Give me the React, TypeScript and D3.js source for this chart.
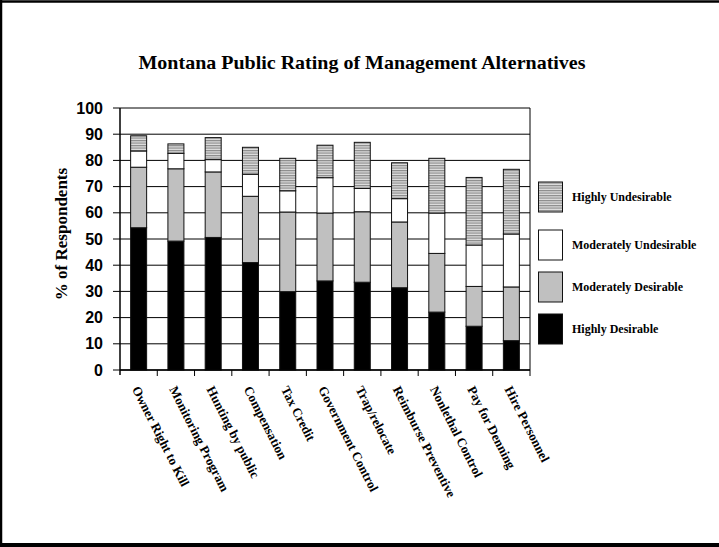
import React from "react";
import * as d3 from "d3";

const categories = [
  "Owner Right to Kill",
  "Monitoring Program",
  "Hunting by public",
  "Compensation",
  "Tax Credit",
  "Government Control",
  "Trap/relocate",
  "Reimburse Preventive",
  "Nonlethal Control",
  "Pay for Denning",
  "Hire Personnel",
];

const highlyDesirable = [54.3, 49.2, 50.6, 41.0, 29.9, 34.0, 33.5, 31.4, 22.1, 16.7, 11.2];
const moderatelyDesirable = [23.1, 27.6, 25.0, 25.3, 30.4, 25.9, 26.9, 25.1, 22.4, 15.2, 20.5];
const moderatelyUndesirable = [6.2, 5.9, 4.7, 8.4, 8.1, 13.5, 8.9, 8.9, 15.4, 15.8, 20.2];
const highlyUndesirable = [5.8, 3.6, 8.4, 10.3, 12.4, 12.4, 17.6, 13.7, 20.9, 25.8, 24.7];

const seriesNames = [
  "Highly Desirable",
  "Moderately Desirable",
  "Moderately Undesirable",
  "Highly Undesirable",
];

const yTicks = [0, 10, 20, 30, 40, 50, 60, 70, 80, 90, 100];

const W = 719;
const H = 547;
const plot = { left: 120, right: 530, top: 108, bottom: 370 };

const fills = ["#000000", "#c0c0c0", "#ffffff", "url(#hatch)"];

export default function App() {
  const table = categories.map((c, i) => ({
    cat: c,
    [seriesNames[0]]: highlyDesirable[i],
    [seriesNames[1]]: moderatelyDesirable[i],
    [seriesNames[2]]: moderatelyUndesirable[i],
    [seriesNames[3]]: highlyUndesirable[i],
  }));
  const stacked = d3.stack<any>().keys(seriesNames)(table);

  const x = d3
    .scaleBand<string>()
    .domain(categories)
    .range([plot.left, plot.right])
    .paddingInner(0)
    .paddingOuter(0);
  const y = d3.scaleLinear().domain([0, 100]).range([plot.bottom, plot.top]);
  const barW = 16;

  const serif = "'Liberation Serif', 'Times New Roman', serif";
  const sans = "'Liberation Sans', Arial, sans-serif";

  const legendItems = [3, 2, 1, 0];
  const legendY = [182, 230, 272, 314];

  return (
    <svg
      width={W}
      height={H}
      style={{ position: "absolute", left: 0, top: 0, background: "#fff" }}
    >
      <defs>
        <pattern id="hatch" patternUnits="userSpaceOnUse" width="4" height="2.5">
          <rect width="4" height="2.5" fill="#e0e0e0" />
          <rect width="4" height="1.2" fill="#8a8a8a" />
        </pattern>
      </defs>

      {/* outer frame */}
      <line x1={1} y1={0} x2={1} y2={545} stroke="#000" strokeWidth={2.5} />
      <line x1={0} y1={1.5} x2={719} y2={1.5} stroke="#000" strokeWidth={2.5} />
      <line x1={0} y1={545} x2={719} y2={545} stroke="#000" strokeWidth={4} />

      <text
        x={362}
        y={69}
        textAnchor="middle"
        fontFamily={serif}
        fontWeight="bold"
        fontSize={19}
        textLength={447}
        lengthAdjust="spacingAndGlyphs"
      >
        Montana Public Rating of Management Alternatives
      </text>

      {/* gridlines */}
      {yTicks.map((t) => (
        <line
          key={"g" + t}
          x1={plot.left}
          x2={plot.right}
          y1={y(t)}
          y2={y(t)}
          stroke="#000"
          strokeWidth={1}
        />
      ))}
      <line x1={plot.right} x2={plot.right} y1={plot.top} y2={plot.bottom} stroke="#000" strokeWidth={1} />

      {/* bars */}
      {stacked.map((s, si) => (
        <g key={s.key}>
          {s.map((d, i) => {
            const cx = (x(categories[i]) as number) + x.bandwidth() / 2;
            return (
              <rect
                key={i}
                x={cx - barW / 2}
                y={y(d[1])}
                width={barW}
                height={y(d[0]) - y(d[1])}
                fill={fills[si]}
                stroke="#111"
                strokeWidth={1}
              />
            );
          })}
        </g>
      ))}

      {/* y axis */}
      <line x1={plot.left} x2={plot.left} y1={plot.top} y2={plot.bottom + 5} stroke="#000" strokeWidth={1.5} />
      {yTicks.map((t) => (
        <g key={"t" + t}>
          <line x1={plot.left - 7} x2={plot.left} y1={y(t)} y2={y(t)} stroke="#000" strokeWidth={1} />
          <text
            x={plot.left - 17}
            y={y(t) + 5.5}
            textAnchor="end"
            fontFamily={sans}
            fontWeight="bold"
            fontSize={16}
          >
            {t}
          </text>
        </g>
      ))}
      <text
        transform={`translate(67, 234) rotate(-90)`}
        textAnchor="middle"
        fontFamily={serif}
        fontWeight="bold"
        fontSize={17}
      >
        % of Respondents
      </text>

      {/* x axis */}
      <line x1={plot.left} x2={plot.right} y1={plot.bottom} y2={plot.bottom} stroke="#000" strokeWidth={1.5} />
      {categories.map((c, i) => (
        <line
          key={"xt" + i}
          x1={(x(c) as number) + x.bandwidth()}
          x2={(x(c) as number) + x.bandwidth()}
          y1={plot.bottom}
          y2={plot.bottom + 6}
          stroke="#000"
          strokeWidth={1}
        />
      ))}
      {categories.map((c, i) => {
        const cx = (x(c) as number) + x.bandwidth() / 2;
        return (
          <text
            key={"xl" + i}
            transform={`translate(${cx - 7}, ${plot.bottom + 19}) rotate(63)`}
            fontFamily={serif}
            fontWeight="bold"
            fontSize={13}
          >
            {c}
          </text>
        );
      })}

      {/* legend */}
      {legendItems.map((si, k) => (
        <g key={"l" + si}>
          <rect
            x={538.5}
            y={legendY[k]}
            width={24}
            height={30}
            fill={fills[si]}
            stroke="#111"
            strokeWidth={1}
          />
          <text
            x={572}
            y={legendY[k] + 19}
            fontFamily={serif}
            fontWeight="bold"
            fontSize={12}
          >
            {seriesNames[si]}
          </text>
        </g>
      ))}
    </svg>
  );
}
